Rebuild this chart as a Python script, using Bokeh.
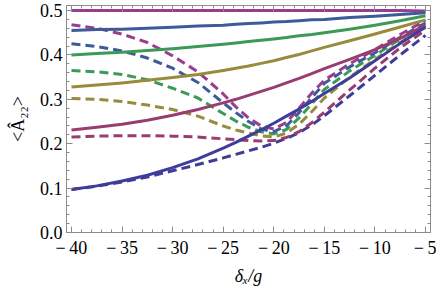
import numpy as np
from bokeh.plotting import figure
from bokeh.models import LinearAxis, FixedTicker
from bokeh.embed import file_html
from bokeh.resources import INLINE

# ---------------- data ----------------
x = [-40, -37.5, -35, -32.5, -30, -27.5, -25, -23.75, -22.5, -21.25, -20,
     -18.75, -17.5, -16.25, -15, -12.5, -10, -7.5, -5]

solid_purple = [0.500, 0.500, 0.500, 0.500, 0.500, 0.500, 0.500, 0.500, 0.500, 0.500, 0.500,
                0.500, 0.500, 0.500, 0.500, 0.500, 0.500, 0.500, 0.499]
solid_blue = [0.455, 0.457, 0.458, 0.460, 0.4625, 0.465, 0.467, 0.469, 0.4705, 0.472, 0.474,
              0.475, 0.477, 0.479, 0.480, 0.484, 0.487, 0.491, 0.495]
solid_green = [0.400, 0.403, 0.406, 0.410, 0.414, 0.419, 0.424, 0.427, 0.430, 0.433, 0.436,
               0.439, 0.443, 0.446, 0.450, 0.458, 0.467, 0.477, 0.488]
solid_olive = [0.328, 0.332, 0.337, 0.343, 0.349, 0.356, 0.365, 0.370, 0.375, 0.381, 0.387,
               0.394, 0.401, 0.409, 0.417, 0.432, 0.447, 0.463, 0.479]
solid_magenta = [0.231, 0.237, 0.244, 0.253, 0.264, 0.277, 0.292, 0.300, 0.309, 0.318, 0.327,
                 0.337, 0.347, 0.358, 0.369, 0.390, 0.412, 0.437, 0.467]
solid_navy = [0.097, 0.105, 0.116, 0.129, 0.146, 0.166, 0.190, 0.203, 0.217, 0.231, 0.246,
              0.262, 0.278, 0.295, 0.313, 0.348, 0.387, 0.426, 0.463]

dashed_purple = [0.468, 0.460, 0.447, 0.428, 0.398, 0.362, 0.312, 0.283, 0.258, 0.240, 0.233,
                 0.248, 0.280, 0.314, 0.343, 0.380, 0.412, 0.446, 0.478]
dashed_blue = [0.425, 0.419, 0.409, 0.393, 0.370, 0.338, 0.292, 0.270, 0.250, 0.233, 0.227,
               0.240, 0.270, 0.304, 0.336, 0.373, 0.405, 0.440, 0.472]
dashed_green = [0.365, 0.362, 0.356, 0.344, 0.325, 0.303, 0.268, 0.251, 0.237, 0.227, 0.222,
                0.232, 0.258, 0.290, 0.322, 0.364, 0.399, 0.436, 0.468]
dashed_olive = [0.302, 0.300, 0.295, 0.287, 0.277, 0.262, 0.240, 0.231, 0.224, 0.218, 0.215,
                0.224, 0.244, 0.272, 0.303, 0.350, 0.390, 0.428, 0.462]
dashed_magenta = [0.215, 0.217, 0.218, 0.218, 0.217, 0.215, 0.211, 0.209, 0.207, 0.206, 0.207,
                  0.214, 0.227, 0.247, 0.271, 0.321, 0.370, 0.416, 0.456]
dashed_navy = [0.097, 0.104, 0.114, 0.125, 0.139, 0.153, 0.168, 0.176, 0.184, 0.192, 0.201,
               0.212, 0.225, 0.242, 0.263, 0.308, 0.354, 0.400, 0.444]

x_ticks = [-40, -35, -30, -25, -20, -15, -10, -5]
x_tick_labels = ["\u2212\u200940", "\u2212\u200935", "\u2212\u200930", "\u2212\u200925",
                 "\u2212\u200920", "\u2212\u200915", "\u2212\u200910", "\u2212\u20095"]
y_ticks = [0.0, 0.1, 0.2, 0.3, 0.4, 0.5]
y_tick_labels = ["0.0", "0.1", "0.2", "0.3", "0.4", "0.5"]
x_title = "\u03b4\u2093/g"
y_title = "<\u00c2\u2082\u2082>"

# ---------------- style ----------------
c_navy = "#3f3d99"
c_magenta = "#993d71"
c_olive = "#998b3d"
c_green = "#3d9956"
c_blue = "#3d5a99"
c_purple = "#993d8f"
frame_col = "#8c8c8c"
FONT = "Liberation Serif"

p = figure(width=436, height=289, x_range=(-40.494, -4.506), y_range=(0, 0.5113),
           output_backend="svg", toolbar_location=None,
           min_border_left=66, min_border_right=6, min_border_top=5, min_border_bottom=57)
p.grid.visible = False
p.outline_line_color = frame_col
p.background_fill_color = "white"
p.border_fill_color = "white"

series = [
    (dashed_navy, c_navy, "dashed"),
    (dashed_magenta, c_magenta, "dashed"),
    (dashed_olive, c_olive, "dashed"),
    (dashed_green, c_green, "dashed"),
    (dashed_blue, c_blue, "dashed"),
    (dashed_purple, c_purple, "dashed"),
    (solid_purple, c_purple, "solid"),
    (solid_blue, c_blue, "solid"),
    (solid_green, c_green, "solid"),
    (solid_olive, c_olive, "solid"),
    (solid_magenta, c_magenta, "solid"),
    (solid_navy, c_navy, "solid"),
]
for ys, col, dash in series:
    p.line(x, ys, line_color=col, line_width=3,
           line_dash=("9 5" if dash == "dashed" else "solid"), line_join="round")


def style_axis(ax, ticks, labels):
    step = ticks[1] - ticks[0]
    ax.ticker = FixedTicker(ticks=ticks,
                            minor_ticks=list(np.round(np.arange(ticks[0] - step,
                                                                 ticks[-1] + step * 1.01,
                                                                 step / 5), 6)))
    ax.major_label_overrides = {t: l for t, l in zip(ticks, labels)}
    ax.axis_line_color = frame_col
    ax.major_tick_line_color = frame_col
    ax.minor_tick_line_color = frame_col
    ax.major_tick_in = 6
    ax.major_tick_out = 0
    ax.minor_tick_in = 3
    ax.minor_tick_out = 0
    ax.major_label_text_font = FONT
    ax.major_label_text_font_size = "18px"
    ax.major_label_text_color = "black"
    ax.axis_label_text_font = FONT
    ax.axis_label_text_font_size = "18px"
    ax.axis_label_text_color = "black"


xa = p.xaxis[0]
style_axis(xa, x_ticks, x_tick_labels)
xa.major_label_standoff = 5
xa.axis_label = x_title
xa.axis_label_text_font_style = "italic"
xa.axis_label_standoff = 5

ya = p.yaxis[0]
style_axis(ya, y_ticks, y_tick_labels)
ya.major_label_standoff = 4
ya.axis_label = y_title
ya.axis_label_text_font_style = "normal"
ya.axis_label_standoff = 9

top = LinearAxis()
style_axis(top, x_ticks, [""] * len(x_ticks))
top.major_label_standoff = 0
p.add_layout(top, "above")
right = LinearAxis()
style_axis(right, y_ticks, [""] * len(y_ticks))
right.major_label_standoff = 0
p.add_layout(right, "right")

open("out.html", "w").write(file_html(p, INLINE))
